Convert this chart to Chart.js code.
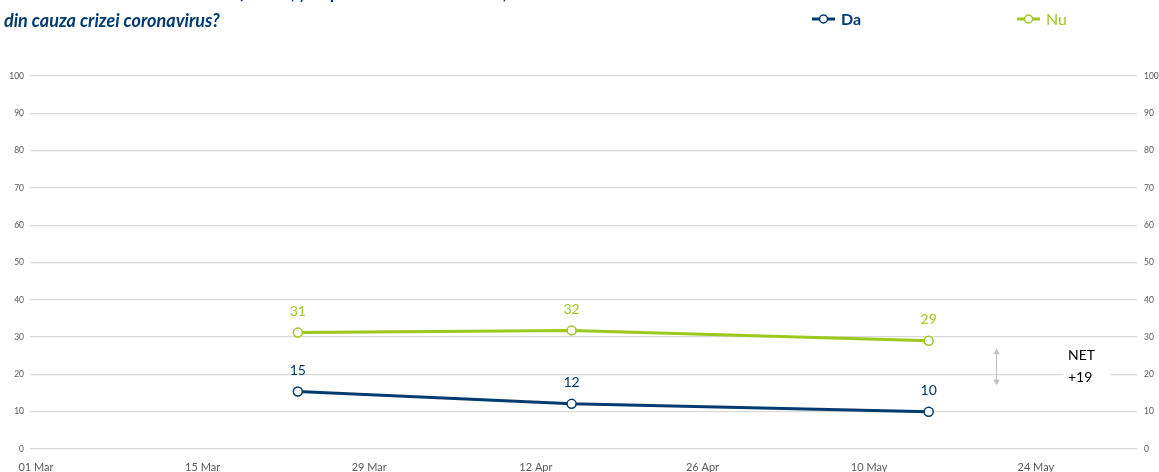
<!DOCTYPE html>
<html>
<head>
<meta charset="utf-8">
<script src="https://cdn.jsdelivr.net/npm/chart.js@4.4.1/dist/chart.umd.min.js"></script>
<style>
  html, body { margin: 0; padding: 0; background: #fff; }
  #wrap { position: relative; width: 1159px; height: 472px; }
</style>
</head>
<body>
<div id="wrap"><canvas id="myChart" width="1159" height="472"></canvas></div>
<script>
"use strict";

const titleLines = ["Dumneavoastră sau cineva din familie, și-a pierdut locul de muncă, sau venitul", "din cauza crizei coronavirus?"];
const seriesNames = ["Da", "Nu"];
const surveyDates = ["2020-03-23", "2020-04-15", "2020-05-15"];
const daValues = [15.4, 12.1, 10.0];
const nuValues = [31.2, 31.8, 29.0];
const axisStart = "2020-03-01";
const axisDays = 92;
const tickStepDays = 14;
const yTicks = [0, 100, 10];
const netText = ["NET", "+19"];

const NAVY = "#003a70";
const GREEN = "#9dc81e";
const GREY_TXT = "#595959";
const GRID = "#d9d9d9";
const FONT = "Lato, 'Open Sans', sans-serif";
const MONTHS = ["Jan", "Feb", "Mar", "Apr", "May", "Jun", "Jul", "Aug", "Sep", "Oct", "Nov", "Dec"];

function dayOffset(s) {
  return (Date.parse(s) - Date.parse(axisStart)) / 86400000;
}

function dayLabel(d) {
  let dt = new Date(Date.parse(axisStart) + d * 86400000);
  let dd = String(dt.getUTCDate()).padStart(2, "0");
  return dd + " " + MONTHS[dt.getUTCMonth()];
}

function toPoints(values) {
  let pts = [];
  for (let i = 0; i < values.length; i++) {
    pts.push({ x: dayOffset(surveyDates[i]), y: values[i] });
  }
  return pts;
}

// value labels, NET note, title and legend
const extras = {
  id: "extras",
  afterDatasetsDraw(chart) {
    const ctx = chart.ctx;
    const xs = chart.scales.x;
    const ys = chart.scales.y;
    ctx.save();

    chart.data.datasets.forEach((ds, i) => {
      const meta = chart.getDatasetMeta(i);
      ctx.fillStyle = ds.borderColor;
      ctx.font = "14px " + FONT;
      ctx.textAlign = "center";
      ctx.textBaseline = "middle";
      meta.data.forEach((pt, j) => {
        ctx.fillText(String(Math.round(ds.data[j].y)), pt.x, pt.y - 21);
      });
    });

    // NET arrow between the last points
    const last = surveyDates.length - 1;
    const ax = xs.getPixelForValue(dayOffset(surveyDates[last]) + 5.7);
    const y1 = ys.getPixelForValue(nuValues[last] - 2);
    const y2 = ys.getPixelForValue(daValues[last] + 7);
    ctx.strokeStyle = "#bfbfbf";
    ctx.fillStyle = "#bfbfbf";
    ctx.lineWidth = 1;
    ctx.beginPath();
    ctx.moveTo(ax, y1 + 2);
    ctx.lineTo(ax, y2 - 2);
    ctx.stroke();
    ctx.beginPath();
    ctx.moveTo(ax, y1); ctx.lineTo(ax - 3, y1 + 6); ctx.lineTo(ax + 3, y1 + 6); ctx.closePath();
    ctx.moveTo(ax, y2); ctx.lineTo(ax - 3, y2 - 6); ctx.lineTo(ax + 3, y2 - 6); ctx.closePath();
    ctx.fill();

    const tx = xs.getPixelForValue(dayOffset(surveyDates[last]) + 11.7);
    ctx.fillStyle = "#ffffff";
    ctx.fillRect(tx - 5, ys.getPixelForValue(27), 47, ys.getPixelForValue(10.2) - ys.getPixelForValue(27));
    ctx.fillStyle = "#000000";
    ctx.font = "14px " + FONT;
    ctx.textAlign = "left";
    ctx.textBaseline = "alphabetic";
    ctx.fillText(netText[0], tx, ys.getPixelForValue(23.8));
    ctx.fillText(netText[1], tx, ys.getPixelForValue(17.9));

    // title (first line is cut off at the top edge)
    ctx.fillStyle = NAVY;
    ctx.font = "italic bold 18px " + FONT;
    ctx.fillText(titleLines[0], 4, -1);
    ctx.fillText(titleLines[1], 4, 27);

    // legend
    const legX = [812, 1017];
    chart.data.datasets.forEach((ds, i) => {
      const lx = legX[i], ly = 19;
      ctx.strokeStyle = ds.borderColor;
      ctx.lineWidth = 3;
      ctx.beginPath();
      ctx.moveTo(lx, ly);
      ctx.lineTo(lx + 23, ly);
      ctx.stroke();
      ctx.fillStyle = "#ffffff";
      ctx.lineWidth = 1.5;
      ctx.beginPath();
      ctx.arc(lx + 11.5, ly, 4, 0, Math.PI * 2);
      ctx.fill();
      ctx.stroke();
      ctx.fillStyle = ds.borderColor;
      ctx.font = (i === 0 ? "bold " : "") + "16px " + FONT;
      ctx.textBaseline = "middle";
      ctx.fillText(ds.label, lx + 29, ly + 1);
    });
    ctx.restore();
  }
};

const yAxisCommon = {
  min: yTicks[0],
  max: yTicks[1],
  border: { display: false },
  ticks: { stepSize: yTicks[2], color: GREY_TXT, font: { size: 8.5, family: FONT } }
};

const data = {
  datasets: [
    {
      label: seriesNames[0],
      data: toPoints(daValues),
      borderColor: NAVY,
      backgroundColor: "#ffffff",
      borderWidth: 3,
      pointRadius: 4.5,
      pointBorderWidth: 1.5,
      pointBackgroundColor: "#ffffff",
      tension: 0
    },
    {
      label: seriesNames[1],
      data: toPoints(nuValues),
      borderColor: GREEN,
      backgroundColor: "#ffffff",
      borderWidth: 3,
      pointRadius: 4.5,
      pointBorderWidth: 1.5,
      pointBackgroundColor: "#ffffff",
      tension: 0
    }
  ]
};

const ctx = document.getElementById("myChart").getContext("2d");
const myChart = new Chart(ctx, {
  type: "line",
  data: data,
  plugins: [extras],
  options: {
    responsive: false,
    animation: false,
    layout: { padding: { top: 76, left: 0, right: 0, bottom: 0 } },
    plugins: { legend: { display: false }, tooltip: { enabled: false } },
    scales: {
      x: {
        type: "linear",
        min: -0.5,
        max: axisDays + 0.5,
        grid: { display: false },
        border: { display: false },
        afterBuildTicks: (axis) => {
          let t = [];
          for (let d = 0; d <= axisDays - tickStepDays / 2; d += tickStepDays) t.push({ value: d });
          axis.ticks = t;
        },
        afterFit: (axis) => { axis.height = 23; },
        ticks: {
          color: GREY_TXT,
          padding: 4,
          maxRotation: 0,
          font: { size: 11, family: FONT },
          callback: (v) => dayLabel(v)
        }
      },
      y: Object.assign({}, yAxisCommon, {
        position: "left",
        grid: { color: GRID, lineWidth: 1.3, drawTicks: false },
        afterFit: (axis) => { axis.width = 30; },
        ticks: Object.assign({}, yAxisCommon.ticks, { padding: 6 })
      }),
      y2: Object.assign({}, yAxisCommon, {
        position: "right",
        grid: { display: false, drawTicks: false },
        afterFit: (axis) => { axis.width = 22; },
        ticks: Object.assign({}, yAxisCommon.ticks, { padding: 7 })
      })
    }
  }
});
</script>
</body>
</html>
